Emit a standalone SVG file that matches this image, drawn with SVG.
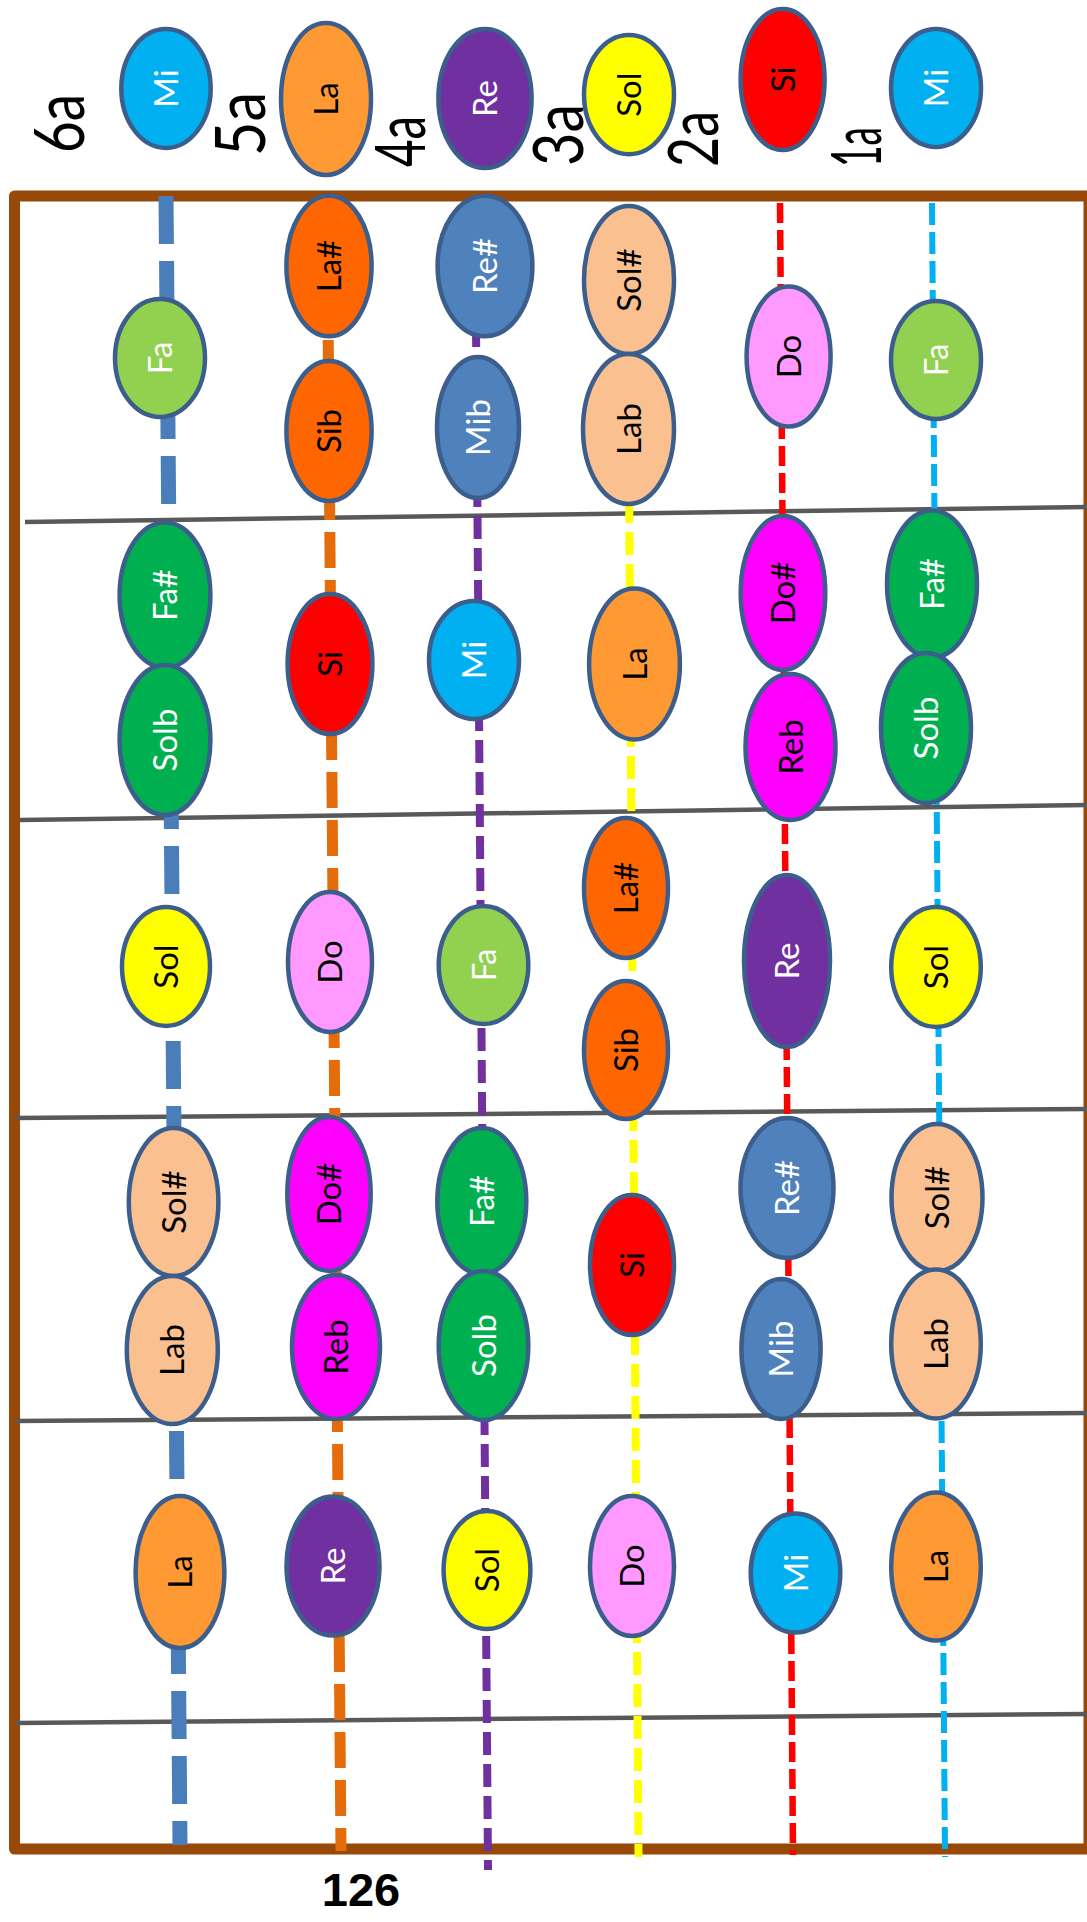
<svg xmlns="http://www.w3.org/2000/svg" width="1087" height="1922" viewBox="0 0 1087 1922">
<style>
.o{stroke:#3B5E8C;stroke-width:4.5}
.t{font-family:Lato,"Open Sans","Liberation Sans",sans-serif;font-size:33px;text-anchor:middle}
.w{fill:#FFFFFF}.k{fill:#000000}
.mi{fill:#00B0F0}.la{fill:#FF9933}.re{fill:#7030A0}.sol{fill:#FFFF00}.si{fill:#FF0000}
.fa{fill:#92D050}.las{fill:#FF6600}.res{fill:#4F81BD}.sols{fill:#FAC090}.do{fill:#FF99FF}
.fas{fill:#00B050}.dos{fill:#FF00FF}
.big{font-family:Lato,"Open Sans","Liberation Sans",sans-serif;font-weight:400;font-size:70px;text-anchor:middle;fill:#000}
.fret{stroke:#595959;stroke-width:4.5;fill:none}
.str{fill:none}
</style>
<rect width="1087" height="1922" fill="#FFFFFF"/>

<g id="string-labels">
<text class="big" transform="translate(84,123.5) rotate(-90)" textLength="59" lengthAdjust="spacingAndGlyphs">6a</text>
<text class="big" transform="translate(265,124) rotate(-90)" textLength="64" lengthAdjust="spacingAndGlyphs">5a</text>
<text class="big" transform="translate(425,141.5) rotate(-90)" textLength="51" lengthAdjust="spacingAndGlyphs">4a</text>
<text class="big" transform="translate(583,135) rotate(-90)" textLength="62" lengthAdjust="spacingAndGlyphs">3a</text>
<text class="big" transform="translate(718,139) rotate(-90)" textLength="56" lengthAdjust="spacingAndGlyphs">2a</text>
<text class="big" transform="translate(881,147) rotate(-90)" textLength="40" lengthAdjust="spacingAndGlyphs">1a</text>
</g>

<g id="fretboard">
<rect x="14.5" y="196" width="1074.5" height="1653" fill="none" stroke="#984807" stroke-width="11" stroke-linejoin="round"/>
</g>

<g id="frets">
<line class="fret" x1="25" y1="522" x2="1087" y2="507"/>
<line class="fret" x1="20" y1="820" x2="1087" y2="805"/>
<line class="fret" x1="15" y1="1118" x2="1087" y2="1109"/>
<line class="fret" x1="15" y1="1421" x2="1087" y2="1413"/>
<line class="fret" x1="15" y1="1723" x2="1087" y2="1714"/>
</g>

<g id="connectors">
<line class="str" x1="166" y1="196" x2="180" y2="1845" stroke="#4A7EBB" stroke-width="15" stroke-dasharray="48 17"/>
<line class="str" x1="327" y1="196" x2="341" y2="1851" stroke="#E46C0A" stroke-width="11" stroke-dasharray="36 12"/>
<line class="str" x1="475" y1="196" x2="488" y2="1870" stroke="#7030A0" stroke-width="8" stroke-dasharray="23 9"/>
<line class="str" x1="627.2" y1="212" x2="638.5" y2="1857" stroke="#FFFF00" stroke-width="8" stroke-dasharray="23 9"/>
<line class="str" x1="780" y1="203" x2="793" y2="1855" stroke="#FF0000" stroke-width="6.5" stroke-dasharray="20 7"/>
<line class="str" x1="932" y1="203" x2="945" y2="1857" stroke="#00B0F0" stroke-width="6" stroke-dasharray="22 7"/>
</g>

<g id="open-strings">
<g id="n-open-6-Mi" transform="translate(166,88.5)"><ellipse class="o mi" rx="44.7" ry="59.4"/><text class="t w" transform="rotate(-90)" y="12">Mi</text></g>
<g id="n-open-5-La" transform="translate(326,99)"><ellipse class="o la" rx="45" ry="76"/><text class="t k" transform="rotate(-90)" y="12">La</text></g>
<g id="n-open-4-Re" transform="translate(485,98.5)"><ellipse class="o re" rx="46.6" ry="69.5"/><text class="t w" transform="rotate(-90)" y="12">Re</text></g>
<g id="n-open-3-Sol" transform="translate(629,94.6)"><ellipse class="o sol" rx="45" ry="59.6"/><text class="t k" transform="rotate(-90)" y="12">Sol</text></g>
<g id="n-open-2-Si" transform="translate(782.6,79.5)"><ellipse class="o si" rx="42" ry="70.5"/><text class="t k" transform="rotate(-90)" y="12">Si</text></g>
<g id="n-open-1-Mi" transform="translate(936,88)"><ellipse class="o mi" rx="45" ry="59"/><text class="t w" transform="rotate(-90)" y="12">Mi</text></g>
</g>

<g id="fret1">
<g id="n-f1-6-Fa" transform="translate(160,358)"><ellipse class="o fa" rx="45" ry="59"/><text class="t w" transform="rotate(-90)" y="12">Fa</text></g>
<g id="n-f1-5-LaS" transform="translate(329,266)"><ellipse class="o las" rx="42.6" ry="70.3"/><text class="t k" transform="rotate(-90)" y="12">La#</text></g>
<g id="n-f1-5-Sib" transform="translate(329,431)"><ellipse class="o las" rx="42.6" ry="70"/><text class="t k" transform="rotate(-90)" y="12">Sib</text></g>
<g id="n-f1-4-ReS" transform="translate(485,266)"><ellipse class="o res" rx="47.4" ry="70.3"/><text class="t w" transform="rotate(-90)" y="12">Re#</text></g>
<g id="n-f1-4-Mib" transform="translate(478,427.5)"><ellipse class="o res" rx="41" ry="70.5"/><text class="t w" transform="rotate(-90)" y="12">Mib</text></g>
<g id="n-f1-3-SolS" transform="translate(629,280)"><ellipse class="o sols" rx="45" ry="74"/><text class="t k" transform="rotate(-90)" y="12">Sol#</text></g>
<g id="n-f1-3-Lab" transform="translate(628.5,429)"><ellipse class="o sols" rx="45.5" ry="75"/><text class="t k" transform="rotate(-90)" y="12">Lab</text></g>
<g id="n-f1-2-Do" transform="translate(788.6,356.5)"><ellipse class="o do" rx="42" ry="70"/><text class="t k" transform="rotate(-90)" y="12">Do</text></g>
<g id="n-f1-1-Fa" transform="translate(936,360)"><ellipse class="o fa" rx="45" ry="59"/><text class="t w" transform="rotate(-90)" y="12">Fa</text></g>
</g>

<g id="fret2">
<g id="n-f2-6-FaS" transform="translate(165,595)"><ellipse class="o fas" rx="45.4" ry="72.6"/><text class="t w" transform="rotate(-90)" y="12">Fa#</text></g>
<g id="n-f2-6-Solb" transform="translate(165,740)"><ellipse class="o fas" rx="45.4" ry="75"/><text class="t w" transform="rotate(-90)" y="12">Solb</text></g>
<g id="n-f2-5-Si" transform="translate(330,664)"><ellipse class="o si" rx="42.4" ry="70"/><text class="t k" transform="rotate(-90)" y="12">Si</text></g>
<g id="n-f2-4-Mi" transform="translate(474,660)"><ellipse class="o mi" rx="45" ry="59"/><text class="t w" transform="rotate(-90)" y="12">Mi</text></g>
<g id="n-f2-3-La" transform="translate(634.5,664)"><ellipse class="o la" rx="45.4" ry="75.6"/><text class="t k" transform="rotate(-90)" y="12">La</text></g>
<g id="n-f2-2-DoS" transform="translate(783,593)"><ellipse class="o dos" rx="42.3" ry="77"/><text class="t k" transform="rotate(-90)" y="12">Do#</text></g>
<g id="n-f2-2-Reb" transform="translate(790.5,747)"><ellipse class="o dos" rx="45" ry="73"/><text class="t k" transform="rotate(-90)" y="12">Reb</text></g>
<g id="n-f2-1-FaS" transform="translate(932,584)"><ellipse class="o fas" rx="45" ry="73.5"/><text class="t w" transform="rotate(-90)" y="12">Fa#</text></g>
<g id="n-f2-1-Solb" transform="translate(926,728)"><ellipse class="o fas" rx="45" ry="75"/><text class="t w" transform="rotate(-90)" y="12">Solb</text></g>
</g>

<g id="fret3">
<g id="n-f3-6-Sol" transform="translate(166,966.5)"><ellipse class="o sol" rx="44" ry="59.5"/><text class="t k" transform="rotate(-90)" y="12">Sol</text></g>
<g id="n-f3-5-Do" transform="translate(330,962)"><ellipse class="o do" rx="42" ry="70"/><text class="t k" transform="rotate(-90)" y="12">Do</text></g>
<g id="n-f3-4-Fa" transform="translate(483.5,965)"><ellipse class="o fa" rx="44.8" ry="59"/><text class="t w" transform="rotate(-90)" y="12">Fa</text></g>
<g id="n-f3-3-LaS" transform="translate(626,888)"><ellipse class="o las" rx="42" ry="70"/><text class="t k" transform="rotate(-90)" y="12">La#</text></g>
<g id="n-f3-3-Sib" transform="translate(626,1050)"><ellipse class="o las" rx="42" ry="69"/><text class="t k" transform="rotate(-90)" y="12">Sib</text></g>
<g id="n-f3-2-Re" transform="translate(787,961)"><ellipse class="o re" rx="43" ry="86"/><text class="t w" transform="rotate(-90)" y="12">Re</text></g>
<g id="n-f3-1-Sol" transform="translate(936,967)"><ellipse class="o sol" rx="44.8" ry="60"/><text class="t k" transform="rotate(-90)" y="12">Sol</text></g>
</g>

<g id="fret4">
<g id="n-f4-6-SolS" transform="translate(173.6,1202)"><ellipse class="o sols" rx="44.8" ry="74"/><text class="t k" transform="rotate(-90)" y="12">Sol#</text></g>
<g id="n-f4-6-Lab" transform="translate(172.3,1350)"><ellipse class="o sols" rx="45.5" ry="74"/><text class="t k" transform="rotate(-90)" y="12">Lab</text></g>
<g id="n-f4-5-DoS" transform="translate(329,1194)"><ellipse class="o dos" rx="41.7" ry="77"/><text class="t k" transform="rotate(-90)" y="12">Do#</text></g>
<g id="n-f4-5-Reb" transform="translate(336,1347)"><ellipse class="o dos" rx="44" ry="72"/><text class="t k" transform="rotate(-90)" y="12">Reb</text></g>
<g id="n-f4-4-FaS" transform="translate(481.8,1201)"><ellipse class="o fas" rx="44.5" ry="73"/><text class="t w" transform="rotate(-90)" y="12">Fa#</text></g>
<g id="n-f4-4-Solb" transform="translate(483.5,1345.5)"><ellipse class="o fas" rx="44.8" ry="74.5"/><text class="t w" transform="rotate(-90)" y="12">Solb</text></g>
<g id="n-f4-3-Si" transform="translate(632,1265)"><ellipse class="o si" rx="42" ry="70"/><text class="t k" transform="rotate(-90)" y="12">Si</text></g>
<g id="n-f4-2-ReS" transform="translate(787,1188)"><ellipse class="o res" rx="46.5" ry="70"/><text class="t w" transform="rotate(-90)" y="12">Re#</text></g>
<g id="n-f4-2-Mib" transform="translate(781,1349)"><ellipse class="o res" rx="39.6" ry="70"/><text class="t w" transform="rotate(-90)" y="12">Mib</text></g>
<g id="n-f4-1-SolS" transform="translate(937,1197.5)"><ellipse class="o sols" rx="45.5" ry="73.5"/><text class="t k" transform="rotate(-90)" y="12">Sol#</text></g>
<g id="n-f4-1-Lab" transform="translate(936,1344)"><ellipse class="o sols" rx="44.8" ry="74.5"/><text class="t k" transform="rotate(-90)" y="12">Lab</text></g>
</g>

<g id="fret5">
<g id="n-f5-6-La" transform="translate(180,1572)"><ellipse class="o la" rx="44.4" ry="76"/><text class="t k" transform="rotate(-90)" y="12">La</text></g>
<g id="n-f5-5-Re" transform="translate(333,1566)"><ellipse class="o re" rx="46.5" ry="69.6"/><text class="t w" transform="rotate(-90)" y="12">Re</text></g>
<g id="n-f5-4-Sol" transform="translate(487,1570)"><ellipse class="o sol" rx="43.4" ry="59"/><text class="t k" transform="rotate(-90)" y="12">Sol</text></g>
<g id="n-f5-3-Do" transform="translate(632,1566)"><ellipse class="o do" rx="42" ry="70"/><text class="t k" transform="rotate(-90)" y="12">Do</text></g>
<g id="n-f5-2-Mi" transform="translate(795.5,1573)"><ellipse class="o mi" rx="44.8" ry="59.6"/><text class="t w" transform="rotate(-90)" y="12">Mi</text></g>
<g id="n-f5-1-La" transform="translate(936,1566.6)"><ellipse class="o la" rx="44.8" ry="74"/><text class="t k" transform="rotate(-90)" y="12">La</text></g>
</g>

<g id="page-number">
<text x="361" y="1906" font-family="'Liberation Sans',Arial,sans-serif" font-weight="bold" font-size="47" text-anchor="middle" fill="#000">126</text>
</g>
</svg>
